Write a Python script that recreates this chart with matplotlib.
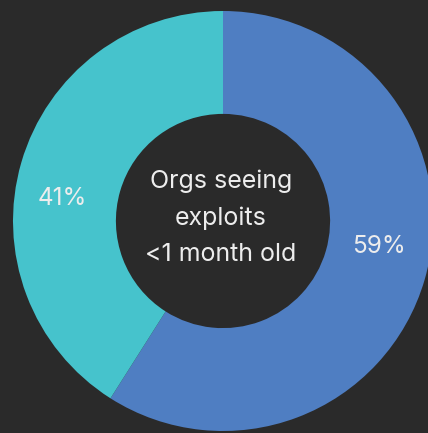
import matplotlib
matplotlib.use("Agg")
import matplotlib.pyplot as plt

categories = ["Under 1 month", "Other"]
values = [59, 41]
labels = ["59%", "41%"]
colors = ["#4F7EC2", "#46C3CC"]
center_text = "Orgs seeing\nexploits\n<1 month old"

bg = "#2A2A2A"
plt.rcParams['font.family'] = ['Inter', 'DejaVu Sans']

fig = plt.figure(figsize=(4.28, 4.33), dpi=100, facecolor=bg)
ax = fig.add_axes([0, 0, 1, 1])
ax.set_facecolor(bg)

R = 210.0
cx, cy = 223.0, 221.0
ax.pie(values, colors=colors, startangle=90, counterclock=False,
       radius=1.0, wedgeprops=dict(width=0.49, edgecolor='none'))

ax.set_xlim(-cx / R, (428 - cx) / R)
ax.set_ylim(-(433 - cy) / R, cy / R)
ax.set_aspect('auto')
ax.axis('off')

def px(x, y):
    return (x - cx) / R, (cy - y) / R

tc = "#EDEDED"
ax.text(*px(379, 247), labels[0], color=tc, fontsize=17.5, ha='center', va='center')
ax.text(*px(62, 199), labels[1], color=tc, fontsize=17.5, ha='center', va='center')
ax.text(*px(221, 218), center_text, color=tc, fontsize=18, ha='center', va='center',
        linespacing=1.72)

fig.savefig("out.png", dpi=100, facecolor=bg)
